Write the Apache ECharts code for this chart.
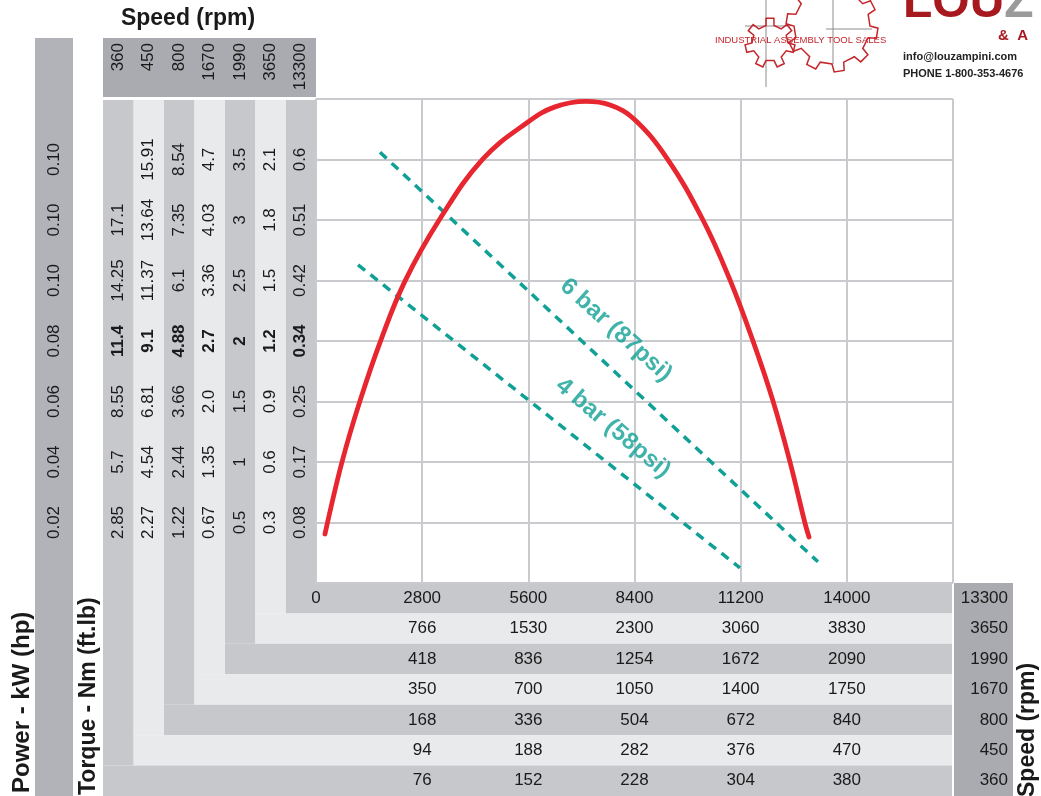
<!DOCTYPE html>
<html>
<head>
<meta charset="utf-8">
<script src="https://cdn.jsdelivr.net/npm/echarts@6/dist/echarts.min.js"></script>
<style>
html, body { margin: 0; padding: 0; background: #fff; }
#chart { width: 1041px; height: 796px; }
</style>
</head>
<body>
<div id="chart"></div>
<script>
// speeds, innermost column / row first
var speeds = ['13300', '3650', '1990', '1670', '800', '450', '360'];

// torque columns, bottom gridline to top gridline
var torque13300 = ['0.08', '0.17', '0.25', '0.34', '0.42', '0.51', '0.6'];
var torque3650 = ['0.3', '0.6', '0.9', '1.2', '1.5', '1.8', '2.1'];
var torque1990 = ['0.5', '1', '1.5', '2', '2.5', '3', '3.5'];
var torque1670 = ['0.67', '1.35', '2.0', '2.7', '3.36', '4.03', '4.7'];
var torque800 = ['1.22', '2.44', '3.66', '4.88', '6.1', '7.35', '8.54'];
var torque450 = ['2.27', '4.54', '6.81', '9.1', '11.37', '13.64', '15.91'];
var torque360 = ['2.85', '5.7', '8.55', '11.4', '14.25', '17.1', ''];
var power = ['0.02', '0.04', '0.06', '0.08', '0.10', '0.10', '0.10'];
var boldRow = 4;

// bottom rows, one per speed
var row13300 = ['0', '2800', '5600', '8400', '11200', '14000'];
var row3650 = ['', '766', '1530', '2300', '3060', '3830'];
var row1990 = ['', '418', '836', '1254', '1672', '2090'];
var row1670 = ['', '350', '700', '1050', '1400', '1750'];
var row800 = ['', '168', '336', '504', '672', '840'];
var row450 = ['', '94', '188', '282', '376', '470'];
var row360 = ['', '76', '152', '228', '304', '380'];

// curves (x on the 13300 row scale, y in grid rows)
var redCurve = [[237, 0.81], [686, 2.0], [1160, 3.01], [1714, 4.02], [2347, 4.99], [3270, 6.02],
	[4404, 7.01], [5591, 7.62], [6303, 7.87], [7120, 7.96], [7754, 7.90], [8387, 7.67],
	[9257, 7.02], [10206, 6.0], [10918, 5.01], [11525, 4.0], [12052, 3.01], [12501, 2.0],
	[12896, 0.99], [13002, 0.76]];
var bar6Line = [[1688, 7.12], [13238, 0.35]];
var bar4Line = [[1108, 5.26], [11181, 0.25]];
var pressureNames = ['6 bar (87psi)', '4 bar (58psi)'];
var pressureLabelAt = [[7911, 4.18], [7832, 2.56]];

var xMax = 16800, xStep = 2800, yMax = 8;

var chart = echarts.init(document.getElementById('chart'));

var gridL = 316, gridT = 99, gridR = 953, gridB = 583;
var cell = 30.43;
var font = "'Liberation Sans', Arial, Helvetica, sans-serif";
var ink = '#1a1a1a';
var gridColor = '#c9cacd';
var dark = '#c6c8cb', light = '#e9eaec';
var teal = '#10a096';

function off(i) { return cell * i + cell / 2; }

var torqueCols = [torque13300, torque3650, torque1990, torque1670, torque800, torque450, torque360];
var rowLabels = [row13300, row3650, row1990, row1670, row800, row450, row360];

var yAxes = torqueCols.map(function (col, i) {
	return {
		type: 'value', min: 0, max: yMax, interval: 1,
		position: 'left', offset: off(i),
		axisLine: { show: false }, axisTick: { show: false },
		splitLine: { show: i === 0, lineStyle: { color: gridColor, width: 2 } },
		axisLabel: {
			rotate: 90, margin: 0, align: 'center', verticalAlign: 'middle',
			color: ink, fontSize: 17, fontFamily: font,
			formatter: function (v) {
				var k = Math.round(v);
				var s = col[k - 1];
				if (!s) return '';
				return k === boldRow ? '{b|' + s + '}' : s;
			},
			rich: { b: { fontWeight: 'bold', fontSize: 17, fontFamily: font, color: ink } }
		}
	};
});
yAxes.push({
	type: 'value', min: 0, max: yMax, interval: 1,
	position: 'left', offset: gridL - 54,
	axisLine: { show: false }, axisTick: { show: false }, splitLine: { show: false },
	axisLabel: {
		rotate: 90, margin: 0, align: 'center', verticalAlign: 'middle',
		color: ink, fontSize: 17, fontFamily: font,
		formatter: function (v) { return power[Math.round(v) - 1] || ''; }
	}
});

var xAxes = rowLabels.map(function (row, i) {
	return {
		type: 'value', min: 0, max: xMax, interval: xStep,
		position: 'bottom', offset: off(i),
		axisLine: { show: false }, axisTick: { show: false },
		splitLine: { show: i === 0, lineStyle: { color: gridColor, width: 2 } },
		axisLabel: {
			margin: 0, verticalAlign: 'middle', color: ink, fontSize: 17, fontFamily: font,
			formatter: function (v) { return row[Math.round(v / xStep)] || ''; }
		}
	};
});

// header speed labels (grid 1) and right speed column (grid 2)
xAxes.push({
	gridIndex: 1, type: 'category', data: speeds.slice().reverse(), position: 'top',
	axisLine: { show: false }, axisTick: { show: false },
	axisLabel: { inside: true, interval: 0, rotate: 90, margin: 5, align: 'right', verticalAlign: 'middle', color: ink, fontSize: 17, fontFamily: font }
});
yAxes.push({ gridIndex: 1, type: 'value', show: false });
xAxes.push({ gridIndex: 2, type: 'value', show: false });
yAxes.push({
	gridIndex: 2, type: 'category', data: speeds, inverse: true, position: 'right',
	axisLine: { show: false }, axisTick: { show: false }, splitLine: { show: false },
	axisLabel: { inside: true, interval: 0, margin: 5, align: 'right', verticalAlign: 'middle', color: ink, fontSize: 17, fontFamily: font }
});

// background bands
var graphics = [];
graphics.push({ type: 'rect', z: -10, shape: { x: 35, y: 38, width: 38, height: 758 }, style: { fill: '#b1b3b9' } });
graphics.push({ type: 'rect', z: -10, shape: { x: gridL - cell * 7, y: 38, width: cell * 7, height: 59 }, style: { fill: '#a9abb0' } });
for (var i = 0; i < 7; i++) {
	var left = gridL - cell * (i + 1);
	var fill = i % 2 === 0 ? dark : light;
	graphics.push({ type: 'rect', z: -10, shape: { x: left, y: 100, width: cell, height: gridB + cell * i - 100 }, style: { fill: fill } });
	graphics.push({ type: 'rect', z: -10, shape: { x: left, y: gridB + cell * i, width: gridR - left - 1, height: cell }, style: { fill: fill } });
}
graphics.push({ type: 'rect', z: -10, shape: { x: gridR + 1, y: gridB, width: 59, height: 796 - gridB }, style: { fill: '#a9abb0' } });

// titles
graphics.push({ type: 'text', x: 188, y: 19, style: { text: 'Speed (rpm)', font: 'bold 23px ' + font, fill: ink, align: 'center', verticalAlign: 'middle' } });
graphics.push({ type: 'text', x: 22, y: 793, rotation: Math.PI / 2, style: { text: 'Power - kW (hp)', font: 'bold 24px ' + font, fill: ink, align: 'left', verticalAlign: 'middle' } });
graphics.push({ type: 'text', x: 89, y: 795, rotation: Math.PI / 2, style: { text: 'Torque - Nm (ft.lb)', font: 'bold 23px ' + font, fill: ink, align: 'left', verticalAlign: 'middle' } });
graphics.push({ type: 'text', x: 1028, y: 797, rotation: Math.PI / 2, style: { text: 'Speed (rpm)', font: 'bold 23px ' + font, fill: ink, align: 'left', verticalAlign: 'middle' } });

// logo
function gear(cx, cy, r1, r2, n) {
	var pts = [];
	var step = Math.PI * 2 / n;
	for (var k = 0; k < n; k++) {
		var a = k * step;
		var h = step / 2;
		pts.push([cx + r1 * Math.cos(a), cy + r1 * Math.sin(a)]);
		pts.push([cx + r2 * Math.cos(a + h * 0.15), cy + r2 * Math.sin(a + h * 0.15)]);
		pts.push([cx + r2 * Math.cos(a + h * 0.85), cy + r2 * Math.sin(a + h * 0.85)]);
		pts.push([cx + r1 * Math.cos(a + h), cy + r1 * Math.sin(a + h)]);
	}
	return pts;
}
var logoRed = '#c4262c';
graphics.push({ type: 'line', shape: { x1: 766, y1: 0, x2: 766, y2: 87 }, style: { stroke: '#8d8d8d', lineWidth: 1 } });
graphics.push({ type: 'line', shape: { x1: 833, y1: 0, x2: 833, y2: 64 }, style: { stroke: '#8d8d8d', lineWidth: 1 } });
graphics.push({ type: 'line', shape: { x1: 745, y1: 26, x2: 790, y2: 26 }, style: { stroke: '#8d8d8d', lineWidth: 1 } });
graphics.push({ type: 'line', shape: { x1: 826, y1: 29, x2: 872, y2: 29 }, style: { stroke: '#8d8d8d', lineWidth: 1 } });
graphics.push({ type: 'polygon', shape: { points: gear(770, 43, 18, 25, 7) }, style: { fill: 'none', stroke: logoRed, lineWidth: 1.5 } });
graphics.push({ type: 'polygon', shape: { points: gear(832, 26, 38, 46, 10) }, style: { fill: 'none', stroke: logoRed, lineWidth: 1.5 } });
graphics.push({ type: 'text', x: 715, y: 40, style: { text: 'INDUSTRIAL ASSEMBLY TOOL SALES', font: '9.5px ' + font, fill: logoRed, align: 'left', verticalAlign: 'middle' } });
graphics.push({ type: 'text', x: 903, y: 28, style: {
	text: '{r|LOU}{g|Z}', align: 'left', verticalAlign: 'bottom',
	rich: { r: { font: 'bold 48px ' + font, fill: '#a8191f' }, g: { font: 'bold 48px ' + font, fill: '#9b9b9b' } }
} });
graphics.push({ type: 'text', x: 998, y: 36, style: { text: '&  A', font: 'bold 15px ' + font, fill: '#a8191f', align: 'left', verticalAlign: 'middle' } });
graphics.push({ type: 'text', x: 903, y: 57, style: { text: 'info@louzampini.com', font: 'bold 11px ' + font, fill: '#222', align: 'left', verticalAlign: 'middle' } });
graphics.push({ type: 'text', x: 903, y: 74, style: { text: 'PHONE 1-800-353-4676', font: 'bold 11px ' + font, fill: '#222', align: 'left', verticalAlign: 'middle' } });

var labelAngles = [-42, -40];

var option = {
	animation: false,
	textStyle: { fontFamily: font },
	grid: [
		{ left: gridL, top: gridT, width: gridR - gridL, height: gridB - gridT, outerBoundsMode: 'none', containLabel: false },
		{ left: gridL - cell * 7, top: 38, width: cell * 7, height: 59, outerBoundsMode: 'none', containLabel: false },
		{ left: gridR + 1, top: gridB, width: 59, height: 796 - gridB, outerBoundsMode: 'none', containLabel: false }
	],
	xAxis: xAxes,
	yAxis: yAxes,
	graphic: graphics,
	series: [
		{
			type: 'line', data: redCurve, smooth: 0.4, symbol: 'none', z: 5,
			lineStyle: { color: '#e8262f', width: 4.8, cap: 'round' }
		},
		{
			type: 'line', data: bar6Line, symbol: 'none',
			lineStyle: { color: teal, width: 3.5, type: [9, 7] }
		},
		{
			type: 'line', data: bar4Line, symbol: 'none',
			lineStyle: { color: teal, width: 3.5, type: [9, 7] }
		},
		{
			type: 'scatter', symbolSize: 0, silent: true,
			data: pressureNames.map(function (n, k) {
				return {
					value: pressureLabelAt[k], name: n,
					label: { rotate: labelAngles[k] }
				};
			}),
			label: {
				show: true, position: 'inside', formatter: '{b}',
				color: teal, fontSize: 24, fontWeight: 'bold', fontFamily: font
			}
		}
	]
};
chart.setOption(option);
</script>
</body>
</html>
